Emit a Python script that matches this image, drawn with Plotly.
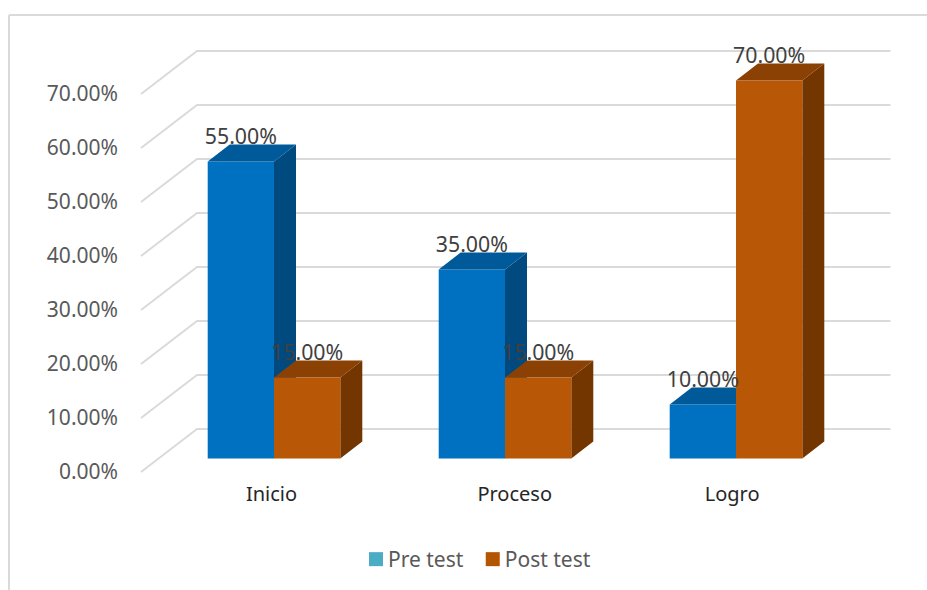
import plotly.graph_objects as go

categories = ["Inicio", "Proceso", "Logro"]
pre_test = [55.0, 35.0, 10.0]
post_test = [15.0, 15.0, 70.0]
y_ticks = [0, 10, 20, 30, 40, 50, 60, 70]
y_tick_labels = ["0.00%", "10.00%", "20.00%", "30.00%", "40.00%", "50.00%", "60.00%", "70.00%"]
x_label_pos = [-0.011, 1.042, 1.983]

W, H = 927, 590
FONT = "Noto Sans"
PX_X, PX_Y = 231.0, 5.4          # px per category, px per percent
L, R, T, B = 119, 905, 40, 480   # plot box in px

def data_x(px):  # category units, category 0 boundary at px 274
    return (px - 274) / PX_X

x_range = [data_x(L), data_x(R)]
bar_range = [(458.5 - B) / PX_Y, (458.5 - T) / PX_Y]
wall_range = [(472 - B) / PX_Y, (472 - T) / PX_Y]

BAR_W = 66.3 / PX_X
BAR_DX, BAR_DY = 22 / PX_X, 17 / PX_Y
WALL_X0, WALL_X1, WALL_XE = data_x(141), data_x(197), data_x(890.5)
WALL_DY = 43 / PX_Y
LABEL_LIFT = 23 / PX_Y

grid_x, grid_y = [], []
for v in y_ticks:
    grid_x += [WALL_X0, WALL_X1, WALL_XE, None]
    grid_y += [v, v + WALL_DY, v + WALL_DY, None]


def faces(values, left_of):
    side_x, side_y, top_x, top_y = [], [], [], []
    for i, v in enumerate(values):
        l = i + left_of
        r = l + BAR_W
        side_x += [r, r + BAR_DX, r + BAR_DX, r, r, None]
        side_y += [0, BAR_DY, v + BAR_DY, v, 0, None]
        top_x += [l, r, r + BAR_DX, l + BAR_DX, l, None]
        top_y += [v, v, v + BAR_DY, v + BAR_DY, v, None]
    return side_x, side_y, top_x, top_y


def poly(x, y, color, name):
    return go.Scatter(x=x, y=y, mode="lines", fill="toself", fillcolor=color,
                      line=dict(width=0, color=color), hoverinfo="skip",
                      showlegend=False, name=name, xaxis="x2", yaxis="y2")


fig = go.Figure()
fig.add_trace(go.Scatter(x=grid_x, y=grid_y, mode="lines", line=dict(color="#DADADA", width=2),
                         hoverinfo="skip", showlegend=False))
# blue front + faces
fig.add_trace(go.Bar(x=[0, 1, 2], y=pre_test, width=BAR_W, offset=-BAR_W, marker=dict(color="#0070C0", line=dict(width=0)),
                     name="Pre test", showlegend=False, xaxis="x2", yaxis="y2"))
bs_x, bs_y, bt_x, bt_y = faces(pre_test, -BAR_W)
fig.add_trace(poly(bs_x, bs_y, "#004A80", "Pre side"))
fig.add_trace(poly(bt_x, bt_y, "#005A9A", "Pre top"))
os_x, os_y, ot_x, ot_y = faces(post_test, 0)
fig.add_trace(poly(os_x, os_y, "#743600", "Post side"))
fig.add_trace(poly(ot_x, ot_y, "#8A4103", "Post top"))
# orange front
fig.add_trace(go.Bar(x=[0, 1, 2], y=post_test, width=BAR_W, offset=0, marker=dict(color="#B85706", line=dict(width=0)),
                     name="Post test", showlegend=False, xaxis="x3", yaxis="y3"))
# data labels
lab_x = [i - BAR_W / 2 for i in range(3)] + [i + BAR_W / 2 for i in range(3)]
lab_v = pre_test + post_test
fig.add_trace(go.Scatter(x=lab_x, y=[v + LABEL_LIFT for v in lab_v], mode="text",
                         text=[f"{v:.2f}%" for v in lab_v], textposition="middle center",
                         textfont=dict(family=FONT, size=21.3, color="#404040"),
                         hoverinfo="skip", showlegend=False, xaxis="x3", yaxis="y3"))
# legend swatches
fig.add_trace(go.Scatter(x=[None], y=[None], mode="markers", name="Pre test",
                         marker=dict(symbol="square", size=14, color="#4BACC6")))
fig.add_trace(go.Scatter(x=[None], y=[None], mode="markers", name="Post test",
                         marker=dict(symbol="square", size=14, color="#B45500")))

dom_x = [L / W, R / W]
dom_y = [1 - B / H, 1 - T / H]
hidden = dict(visible=False, showgrid=False, zeroline=False, fixedrange=True)
fig.update_layout(
    width=W, height=H, margin=dict(l=0, r=0, t=0, b=0, pad=0), autosize=False,
    paper_bgcolor="white", plot_bgcolor="rgba(0,0,0,0)",
    font=dict(family=FONT, size=20, color="#595959"),
    barmode="overlay",
    xaxis=dict(domain=dom_x, range=x_range, tickmode="array", tickvals=x_label_pos, ticktext=categories,
               showgrid=False, zeroline=False, showline=False, ticks="", automargin=False,
               tickfont=dict(family=FONT, size=20, color="#262626"), fixedrange=True),
    yaxis=dict(domain=dom_y, range=wall_range, tickmode="array", tickvals=y_ticks, ticktext=y_tick_labels,
               showgrid=False, zeroline=False, showline=False, ticks="", automargin=False,
               tickfont=dict(family=FONT, size=21, color="#595959"), fixedrange=True),
    xaxis2=dict(overlaying="x", range=x_range, **hidden),
    yaxis2=dict(overlaying="y", range=bar_range, **hidden),
    xaxis3=dict(overlaying="x", range=x_range, **hidden),
    yaxis3=dict(overlaying="y", range=bar_range, **hidden),
    legend=dict(orientation="h", x=348 / W, y=1 - 539 / H, xanchor="left", yanchor="top",
                font=dict(family=FONT, size=21, color="#595959"), bgcolor="rgba(0,0,0,0)"),
    shapes=[
        dict(type="line", xref="paper", yref="paper", x0=9 / W, x1=1, y0=1 - 15 / H, y1=1 - 15 / H,
             line=dict(color="#DADADA", width=2)),
        dict(type="line", xref="paper", yref="paper", x0=9 / W, x1=9 / W, y0=1 - 15 / H, y1=0,
             line=dict(color="#DADADA", width=2)),
    ],
)
fig.write_html("out.html",
               post_script="document.body.style.margin='0';document.body.style.overflow='hidden';"
                           "document.querySelectorAll('.legendpoints').forEach(function(g){g.setAttribute('transform','translate(8,0)');});"
                           "var t=document.querySelectorAll('.legend .traces');"
                           "if(t.length>1){t[1].setAttribute('transform',t[1].getAttribute('transform').replace(/translate\\(([\\d.]+)/,function(m,a){return 'translate('+(parseFloat(a)-4);}));}",
               config=dict(displayModeBar=False))
